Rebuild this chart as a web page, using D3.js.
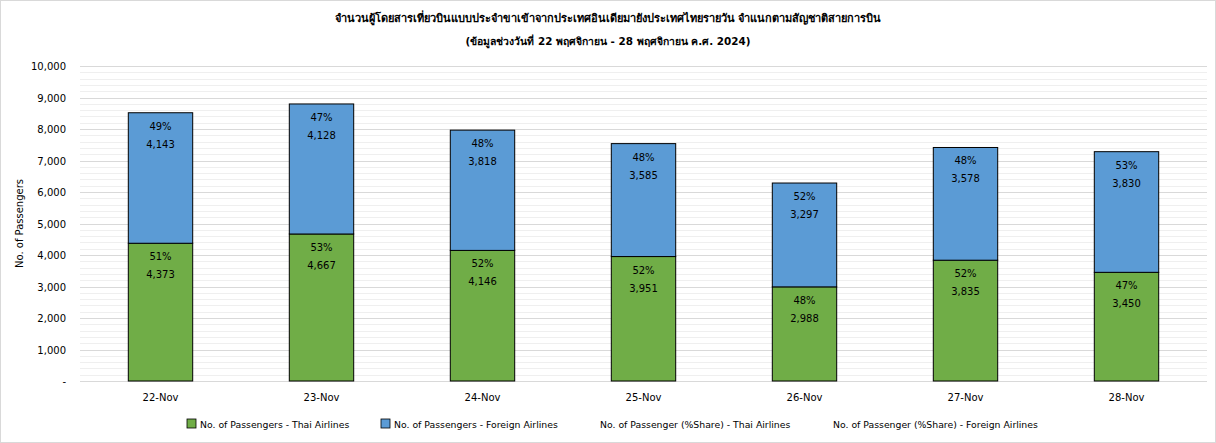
<!DOCTYPE html>
<html>
<head>
<meta charset="utf-8">
<script src="https://cdn.jsdelivr.net/npm/d3@7"></script>
<style>
  body { margin: 0; background: #fff; }
  svg { display: block; font-family: "DejaVu Sans", Verdana, sans-serif; }
</style>
</head>
<body>
<svg id="chart" width="1216" height="443"></svg>
<script>
const days = ["22-Nov", "23-Nov", "24-Nov", "25-Nov", "26-Nov", "27-Nov", "28-Nov"];
const thai = [4373, 4667, 4146, 3951, 2988, 3835, 3450];
const foreign = [4143, 4128, 3818, 3585, 3297, 3578, 3830];
const thaiShare = [51, 53, 52, 52, 48, 52, 47];
const foreignShare = [49, 47, 48, 48, 52, 48, 53];
const yTicks = [0, 1000, 2000, 3000, 4000, 5000, 6000, 7000, 8000, 9000, 10000];

const titleLines = [
  "จำนวนผู้โดยสารเที่ยวบินแบบประจำขาเข้าจากประเทศอินเดียมายังประเทศไทยรายวัน  จำแนกตามสัญชาติสายการบิน",
  "(ข้อมูลช่วงวันที่ 22 พฤศจิกายน - 28 พฤศจิกายน ค.ศ. 2024)"
];
const legendItems = [
  {label: "No. of Passengers - Thai Airlines", color: "#70ad47", x: 187},
  {label: "No. of Passengers - Foreign Airlines", color: "#5b9bd5", x: 381},
  {label: "No. of Passenger (%Share) - Thai Airlines", color: null, x: 600},
  {label: "No. of Passenger (%Share) - Foreign Airlines", color: null, x: 833}
];

const svg = d3.select("#chart"),
    width = +svg.attr("width"),
    height = +svg.attr("height");

const margin = {top: 66, right: 9, bottom: 62, left: 80};

// outer frame
svg.append("rect")
    .attr("x", 0.5).attr("y", 0.5)
    .attr("width", width - 1).attr("height", height - 1)
    .attr("fill", "#fff")
    .attr("stroke", "#d9d9d9");

const x = d3.scaleBand()
    .domain(days)
    .range([margin.left, width - margin.right])
    .paddingInner(0.6)
    .paddingOuter(0.3);

const y = d3.scaleLinear()
    .domain([0, 10000])
    .range([height - margin.bottom, margin.top]);

// minor + major gridlines
const minor = d3.range(0, 10001, 200);
svg.append("g")
    .selectAll("line")
    .data(minor)
    .enter()
    .append("line")
    .attr("x1", margin.left)
    .attr("x2", width - margin.right)
    .attr("y1", d => Math.round(y(d)) + 0.5)
    .attr("y2", d => Math.round(y(d)) + 0.5)
    .attr("stroke", d => d % 1000 === 0 ? "#d9d9d9" : "#efefef")
    .attr("stroke-width", 1);

// y axis labels
svg.append("g")
    .selectAll("text")
    .data(yTicks)
    .enter()
    .append("text")
    .attr("x", margin.left - 14)
    .attr("y", d => y(d) + 4)
    .attr("text-anchor", "end")
    .style("font-size", "10px")
    .style("fill", "#000")
    .text(d => d === 0 ? "-" : d3.format(",")(d));

svg.append("text")
    .attr("transform", "translate(23," + ((margin.top + height - margin.bottom) / 2) + ") rotate(-90)")
    .attr("text-anchor", "middle")
    .style("font-size", "10px")
    .text("No. of Passengers");

// stacked bars
const rows = days.map((d, i) => ({day: d, thai: thai[i], foreign: foreign[i], ts: thaiShare[i], fs: foreignShare[i]}));

const g = svg.append("g");
g.selectAll(".thai")
    .data(rows)
    .enter()
    .append("rect")
    .attr("class", "thai")
    .attr("x", d => x(d.day))
    .attr("width", x.bandwidth())
    .attr("y", d => y(d.thai))
    .attr("height", d => y(0) - y(d.thai))
    .attr("fill", "#70ad47")
    .attr("stroke", "#000")
    .attr("stroke-width", 1);

g.selectAll(".foreign")
    .data(rows)
    .enter()
    .append("rect")
    .attr("class", "foreign")
    .attr("x", d => x(d.day))
    .attr("width", x.bandwidth())
    .attr("y", d => y(d.thai + d.foreign))
    .attr("height", d => y(d.thai) - y(d.thai + d.foreign))
    .attr("fill", "#5b9bd5")
    .attr("stroke", "#000")
    .attr("stroke-width", 1);

// labels inside segments
const labels = svg.append("g")
    .style("font-size", "10px")
    .attr("text-anchor", "middle")
    .style("fill", "#000");

rows.forEach(d => {
    const cx = x(d.day) + x.bandwidth() / 2;
    const topF = y(d.thai + d.foreign), topT = y(d.thai);
    labels.append("text").attr("x", cx).attr("y", topF + 17).text(d.fs + "%");
    labels.append("text").attr("x", cx).attr("y", topF + 35).text(d3.format(",")(d.foreign));
    labels.append("text").attr("x", cx).attr("y", topT + 17).text(d.ts + "%");
    labels.append("text").attr("x", cx).attr("y", topT + 35).text(d3.format(",")(d.thai));
});

// x tick labels
svg.append("g")
    .selectAll("text")
    .data(days)
    .enter()
    .append("text")
    .attr("x", d => x(d) + x.bandwidth() / 2)
    .attr("y", y(0) + 20)
    .attr("text-anchor", "middle")
    .style("font-size", "10px")
    .text(d => d);

// title
svg.append("g")
    .selectAll("text")
    .data(titleLines)
    .enter()
    .append("text")
    .attr("x", width / 2)
    .attr("y", (d, i) => 22 + i * 23)
    .attr("text-anchor", "middle")
    .style("font-size", (d, i) => i === 0 ? "11px" : "10.4px")
    .style("font-weight", "bold")
    .text(d => d);

// legend
const leg = svg.append("g").selectAll("g")
    .data(legendItems)
    .enter()
    .append("g")
    .attr("transform", d => "translate(" + d.x + ",424)");

leg.filter(d => d.color)
    .append("rect")
    .attr("x", 0).attr("y", -5)
    .attr("width", 9).attr("height", 9)
    .attr("fill", d => d.color)
    .attr("stroke", "#000")
    .attr("stroke-width", 0.8);

leg.append("text")
    .attr("x", d => d.color ? 13 : 0)
    .attr("y", 3.5)
    .style("font-size", "9.3px")
    .text(d => d.label);
</script>
</body>
</html>
